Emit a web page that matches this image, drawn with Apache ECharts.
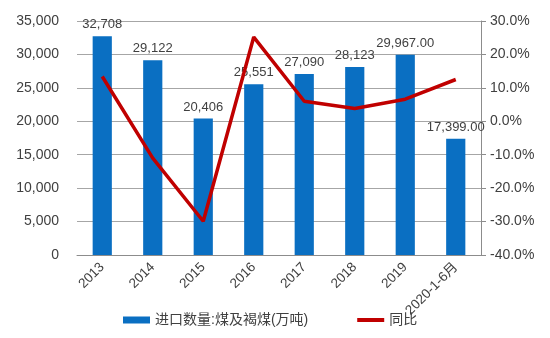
<!DOCTYPE html>
<html>
<head>
<meta charset="utf-8">
<script src="https://cdn.jsdelivr.net/npm/echarts@6/dist/echarts.min.js"></script>
<style>
  html, body { margin: 0; padding: 0; background: #fff; }
  #chart { width: 550px; height: 338px; }
</style>
</head>
<body>
<div id="chart"></div>
<script>
// Coal & lignite imports (10k tonnes) and year-on-year change
const categories = ['2013', '2014', '2015', '2016', '2017', '2018', '2019', '2020-1-6月'];
const importVolume = [32708, 29122, 20406, 25551, 27090, 28123, 29967, 17399];
const yoyPercent = [13.4, -11.0, -29.9, 25.2, 6.0, 3.8, 6.6, 12.5];
// decimals shown in each bar's value label
const labelDecimals = [0, 0, 0, 0, 0, 0, 2, 2];
const leftTicks = { min: 0, max: 35000, interval: 5000 };
const rightTicks = { min: -40, max: 30, interval: 10 };

const FONT = '"Liberation Sans", "Noto Sans CJK SC", sans-serif';
const chart = echarts.init(document.getElementById('chart'), null, { renderer: 'canvas' });

chart.setOption({
  animation: false,
  textStyle: { fontFamily: FONT },
  grid: { left: 77, right: 69, top: 21, bottom: 83, containLabel: false },
  legend: {
    bottom: 6,
    left: 118,
    itemGap: 49,
    itemWidth: 27,
    itemHeight: 7,
    textStyle: { fontSize: 14, color: '#404040', fontFamily: FONT },
    data: [
      { name: '进口数量:煤及褐煤(万吨)', icon: 'rect' },
      { name: '同比', icon: 'path://M0,0h27v4h-27z' }
    ]
  },
  xAxis: {
    type: 'category',
    data: categories,
    axisLine: { lineStyle: { color: '#8c8c8c' } },
    axisTick: { show: false },
    axisLabel: { rotate: 45, fontSize: 13.5, color: '#404040', margin: 10, interval: 0 }
  },
  yAxis: [
    {
      type: 'value',
      min: leftTicks.min, max: leftTicks.max, interval: leftTicks.interval,
      axisLine: { show: false },
      axisTick: { show: false },
      splitLine: { lineStyle: { color: '#a6a6a6' } },
      axisLabel: {
        fontSize: 14, color: '#404040', margin: 18,
        formatter: v => v.toLocaleString('en-US')
      }
    },
    {
      type: 'value',
      min: rightTicks.min, max: rightTicks.max, interval: rightTicks.interval,
      axisLine: { show: true, lineStyle: { color: '#8c8c8c' } },
      axisTick: { show: true, length: 5, lineStyle: { color: '#8c8c8c' } },
      splitLine: { show: false },
      axisLabel: {
        fontSize: 14, color: '#404040', margin: 9,
        formatter: v => v.toFixed(1) + '%'
      }
    }
  ],
  series: [
    {
      name: '进口数量:煤及褐煤(万吨)',
      type: 'bar',
      data: importVolume,
      barWidth: '38%',
      itemStyle: { color: '#0a6fc2' },
      label: {
        show: true,
        position: 'top',
        distance: 5,
        fontSize: 13,
        color: '#404040',
        formatter: p => p.value.toLocaleString('en-US', {
          minimumFractionDigits: labelDecimals[p.dataIndex],
          maximumFractionDigits: labelDecimals[p.dataIndex]
        })
      }
    },
    {
      name: '同比',
      type: 'line',
      yAxisIndex: 1,
      data: yoyPercent,
      symbol: 'none',
      lineStyle: { color: '#c00000', width: 3.5 },
      itemStyle: { color: '#c00000' },
      z: 5
    }
  ]
});
</script>
</body>
</html>
